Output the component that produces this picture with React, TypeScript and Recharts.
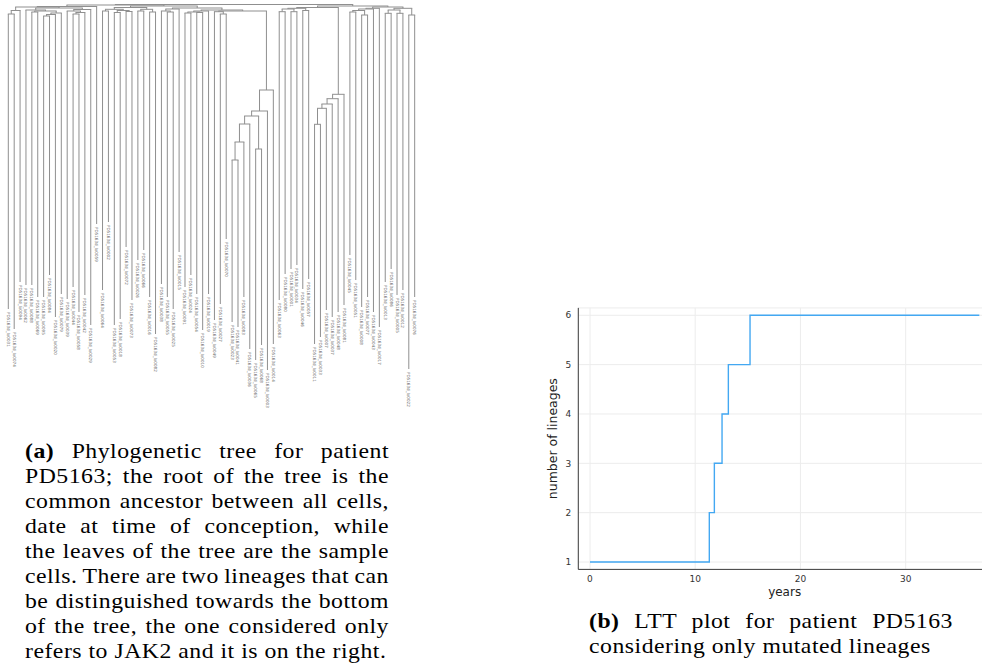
import React from 'react';
import {
  ComposedChart,
  LineChart,
  Line,
  XAxis,
  YAxis,
  CartesianGrid,
  ReferenceLine,
  Scatter,
} from 'recharts';

// ---------------- Phylogenetic tree data ----------------
const leafNames: string[] = [
  'lo0031', 'lo0074', 'lo0094', 'lo0062', 'lo0088', 'lo0069', 'lo0095', 'lo0084', 'lo0020', 'lo0079',
  'lo0039', 'lo0044', 'lo0058', 'lo0042', 'lo0029', 'lo0059', 'lo0064', 'lo0002', 'lo0053', 'lo0018',
  'lo0072', 'lo0073', 'lo0026', 'lo0066', 'lo0016', 'lo0082', 'lo0038', 'lo0055', 'lo0025', 'lo0015',
  'lo0091', 'lo0024', 'lo0054', 'lo0010', 'lo0019', 'lo0049', 'lo0027', 'lo0070', 'lo0023', 'lo0041',
  'lo0083', 'lo0036', 'lo0065', 'lo0068', 'lo0003', 'lo0014', 'lo0063', 'lo0080', 'lo0001', 'lo0034',
  'lo0046', 'lo0057', 'lo0011', 'lo0033', 'lo0007', 'lo0037', 'lo0048', 'lo0081', 'lo0045', 'lo0051',
  'lo0008', 'lo0077', 'lo0043', 'lo0017', 'lo0013', 'lo0086', 'lo0005', 'lo0012', 'lo0022', 'lo0076',
];

// depth (px from top of tree panel) at which each leaf ends
const leafEnds: number[] = [
  309, 329, 282, 285, 285, 297, 297, 275, 317, 294,
  299, 287, 312, 295, 325, 224, 290, 222, 325, 319,
  247, 300, 260, 250, 297, 334, 284, 297, 309, 252,
  287, 275, 294, 330, 294, 320, 304, 239, 322, 327,
  297, 349, 360, 345, 370, 344, 300, 274, 269, 265,
  289, 279, 344, 337, 310, 317, 312, 305, 255, 280,
  307, 297, 312, 327, 282, 269, 295, 290, 369, 297,
];

// internal nodes: id = 100 + index; children are leaf indices (<100) or node ids
const nodeKids: number[][] = [
  [0, 1], [100, 2], [4, 5], [6, 7], [103, 8], [104, 9], [102, 105], [3, 106],
  [11, 12], [108, 13], [10, 109], [110, 14], [107, 111], [101, 112],
  [16, 17], [18, 19], [20, 21], [115, 116], [114, 117],
  [22, 23], [24, 25], [119, 120], [118, 121],
  [27, 28], [26, 123],
  [30, 31], [32, 33], [125, 126], [127, 34], [36, 37], [35, 129], [128, 161],
  [124, 29], [132, 131],
  [38, 39], [134, 40], [135, 41], [42, 43], [136, 137], [138, 44], [139, 45],
  [46, 47], [48, 49], [50, 51], [141, 142], [144, 143],
  [52, 53], [146, 54], [147, 55], [148, 56], [149, 57],
  [58, 59], [60, 61], [151, 152], [153, 62], [154, 63],
  [64, 65], [66, 67], [68, 69], [156, 157], [159, 158],
  [130, 140],
  [113, 15], [122, 133], [145, 150], [155, 160], [164, 165], [162, 163], [167, 166],
];

const nodeHeights: number[] = [
  14, 10.5, 12, 16, 14.5, 13, 11, 10,
  14, 12.5, 11, 9.5, 8, 7,
  11, 12.5, 11.5, 10.5, 9.3,
  11, 12, 9.3, 7.5,
  12, 11,
  13, 12.5, 12, 11, 14, 11.7, 10,
  9, 8,
  160, 142, 124, 149, 116, 111, 90,
  11.7, 11.7, 10.5, 9, 8.3,
  124.3, 108.3, 104, 98.7, 94.3,
  12, 15, 10.5, 9, 8.3,
  13.3, 13.3, 15, 10, 8.3,
  11,
  6.5, 6, 7.5, 7, 6, 5, 4.5,
];

// ---------------- LTT data ----------------
const lttYears: number[] = [0, 11.34, 11.82, 12.55, 13.15, 15.21, 37];
const lttLineages: number[] = [1, 2, 3, 4, 5, 6, 6];
const yearTicks: number[] = [0, 10, 20, 30];
const lineageTicks: number[] = [1, 2, 3, 4, 5, 6];

// ---------------- captions ----------------
const captionA: string[] = [
  'Phylogenetic tree for patient',
  'PD5163; the root of the tree is the',
  'common ancestor between all cells,',
  'date at time of conception, while',
  'the leaves of the tree are the sample',
  'cells. There are two lineages that can',
  'be distinguished towards the bottom',
  'of the tree, the one considered only',
  'refers to JAK2 and it is on the right.',
];
const captionB: string[] = [
  'LTT plot for patient PD5163',
  'considering only mutated lineages',
];

const kidsOf = (id: number) => nodeKids[id - 100];
const xOf = (id: number): number => {
  if (id < 100) return id;
  const k = kidsOf(id);
  return (xOf(k[0]) + xOf(k[k.length - 1])) / 2;
};
const depthOf = (id: number) => (id < 100 ? leafEnds[id] : nodeHeights[id - 100]);

function buildSegments() {
  const hs: { x: number; y: number }[][] = [];
  const vs: { x: number; y: number }[][] = [];
  nodeKids.forEach((kids, k) => {
    const h = nodeHeights[k];
    hs.push([
      { x: xOf(kids[0]), y: h },
      { x: xOf(kids[kids.length - 1]), y: h },
    ]);
    kids.forEach((c) => {
      vs.push([
        { x: xOf(c), y: h },
        { x: xOf(c), y: depthOf(c) },
      ]);
    });
  });
  return { hs, vs };
}

const TreeLabel = (p: any) => {
  const { cx, cy, payload } = p;
  return (
    <text
      transform={`translate(${cx},${cy + 3}) rotate(90)`}
      fontSize={4.1}
      fill="#666"
      fontFamily="DejaVu Sans"
      dominantBaseline="central"
    >
      {payload.name}
    </text>
  );
};

function Tree() {
  const { hs, vs } = buildSegments();
  const leafData = leafNames.map((n, i) => ({ x: i, y: leafEnds[i], name: 'PD5163d_' + n }));
  const TREE_COLOR = '#8f8f8f';
  return (
    <ComposedChart width={430} height={420} margin={{ top: 0, right: 0, bottom: 0, left: 0 }}>
      <XAxis type="number" dataKey="x" domain={[-1.409, 71.6]} hide allowDataOverflow />
      <YAxis type="number" dataKey="y" domain={[0, 420]} reversed hide allowDataOverflow />
      {vs.map((s, i) => (
        <ReferenceLine key={'v' + i} segment={s} stroke={TREE_COLOR} strokeWidth={1} ifOverflow="visible" />
      ))}
      {hs.map((s, i) => (
        <ReferenceLine
          key={'h' + i}
          segment={s}
          stroke={TREE_COLOR}
          strokeWidth={1}
          strokeLinecap="square"
          ifOverflow="visible"
        />
      ))}
      <Scatter data={leafData} dataKey="y" isAnimationActive={false} shape={TreeLabel} />
    </ComposedChart>
  );
}

function LTT() {
  const data = lttYears.map((t, i) => ({ t, n: lttLineages[i] }));
  return (
    <LineChart
      width={460}
      height={314.4}
      data={data}
      margin={{ top: 12.9, right: 9, bottom: 10, left: 13.3 }}
    >
      <CartesianGrid stroke="#ececec" strokeWidth={1} />
      <XAxis
        type="number"
        dataKey="t"
        domain={[-1.11, 38.11]}
        ticks={yearTicks}
        allowDataOverflow
        height={30}
        tickLine={false}
        tickSize={4}
        tickMargin={2}
        axisLine={{ stroke: '#3c3c3c', strokeWidth: 1 }}
        tick={{ fontSize: 9, fill: '#333', fontFamily: 'DejaVu Sans' }}
        label={{ value: 'years', position: 'insideBottom', offset: 3.7, fontSize: 12, fill: '#222', fontFamily: 'DejaVu Sans' }}
      />
      <YAxis
        type="number"
        domain={[0.85, 6.15]}
        ticks={lineageTicks}
        allowDataOverflow
        width={25}
        tickLine={false}
        tickSize={4}
        tickMargin={3}
        axisLine={{ stroke: '#3c3c3c', strokeWidth: 1 }}
        tick={{ fontSize: 9, fill: '#333', fontFamily: 'DejaVu Sans' }}
        label={{
          value: 'number of lineages',
          angle: -90,
          position: 'insideLeft',
          offset: -1,
          fontSize: 12.5,
          fill: '#222',
          fontFamily: 'DejaVu Sans',
          style: { textAnchor: 'middle' },
        }}
      />
      <Line
        type="stepAfter"
        dataKey="n"
        stroke="#43a8f2"
        strokeWidth={1.4}
        dot={false}
        isAnimationActive={false}
      />
    </LineChart>
  );
}

const CAP_SCALE = 1.13;
const CAP_WIDTH = 364;

const capFont: React.CSSProperties = {
  position: 'absolute',
  fontFamily: '"Liberation Serif", serif',
  fontSize: 21,
  letterSpacing: 0.45,
  lineHeight: '25px',
  color: '#000',
  width: CAP_WIDTH / CAP_SCALE,
  transform: `scaleX(${CAP_SCALE})`,
  transformOrigin: '0 0',
};

function Caption({ lines, tag, left, firstBaseline }: { lines: string[]; tag: string; left: number; firstBaseline: number }) {
  return (
    <>
      {lines.map((ln, i) => {
        const last = i === lines.length - 1;
        return (
          <div
            key={i}
            style={{
              ...capFont,
              left,
              top: firstBaseline - 19.7 + 25 * i,
              textAlign: last ? 'left' : 'justify',
              textAlignLast: last ? 'left' : 'justify',
              wordSpacing: last ? 0 : -4,
            }}
          >
            {i === 0 ? (
              <>
                <b>{tag}</b>
                {' ' + ln}
              </>
            ) : (
              ln
            )}
          </div>
        );
      })}
    </>
  );
}

export default function App() {
  return (
    <div
      style={{
        position: 'absolute',
        left: 0,
        top: 0,
        width: 982,
        height: 664,
        overflow: 'hidden',
        background: '#fff',
      }}
    >
      <div style={{ position: 'absolute', left: 0, top: 0 }}>
        <Tree />
      </div>
      <div style={{ position: 'absolute', left: 540, top: 295 }}>
        <LTT />
      </div>
      <Caption lines={captionA} tag="(a)" left={25} firstBaseline={458.3} />
      <Caption lines={captionB} tag="(b)" left={589} firstBaseline={628.3} />
    </div>
  );
}
